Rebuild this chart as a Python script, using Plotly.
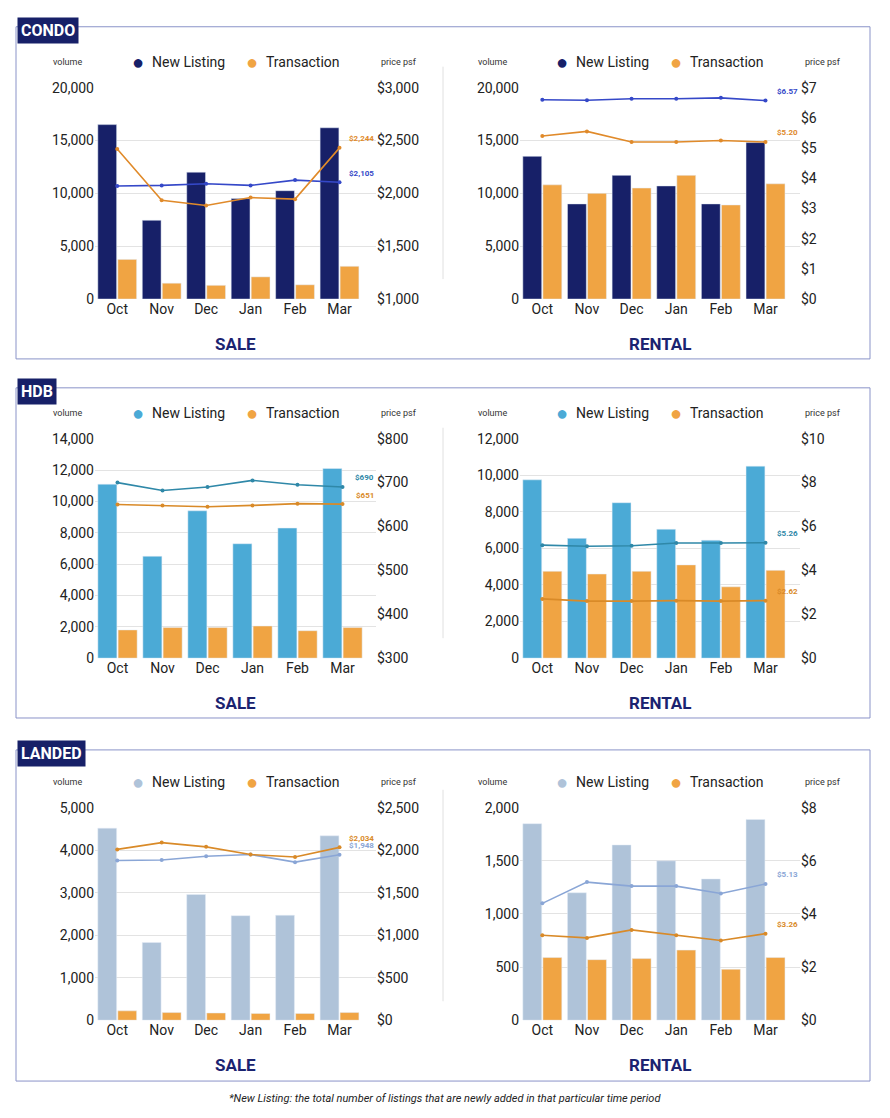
import plotly.graph_objects as go

months = ["Oct", "Nov", "Dec", "Jan", "Feb", "Mar"]

condo_sale_nl = [16500, 7450, 12000, 9500, 10250, 16200]
condo_sale_tx = [3750, 1500, 1300, 2100, 1350, 3100]
condo_sale_nl_psf = [2070, 2075, 2090, 2075, 2125, 2105]
condo_sale_tx_psf = [2420, 1935, 1885, 1960, 1945, 2430]
condo_sale_labels = ["$2,105", "$2,244"]

condo_rent_nl = [13500, 9000, 11700, 10700, 9000, 14800]
condo_rent_tx = [10800, 10000, 10500, 11700, 8900, 10900]
condo_rent_nl_psf = [6.60, 6.58, 6.63, 6.63, 6.66, 6.57]
condo_rent_tx_psf = [5.40, 5.55, 5.20, 5.20, 5.25, 5.20]
condo_rent_labels = ["$6.57", "$5.20"]

hdb_sale_nl = [11100, 6500, 9400, 7300, 8300, 12100]
hdb_sale_tx = [1800, 1950, 1950, 2050, 1750, 1950]
hdb_sale_nl_psf = [700, 682, 690, 705, 695, 690]
hdb_sale_tx_psf = [650, 648, 645, 648, 652, 651]
hdb_sale_labels = ["$690", "$651"]

hdb_rent_nl = [9750, 6550, 8500, 7050, 6450, 10500]
hdb_rent_tx = [4750, 4600, 4750, 5100, 3900, 4800]
hdb_rent_nl_psf = [5.15, 5.10, 5.12, 5.25, 5.25, 5.26]
hdb_rent_tx_psf = [2.70, 2.60, 2.60, 2.62, 2.60, 2.62]
hdb_rent_labels = ["$5.26", "$2.62"]

landed_sale_nl = [4520, 1830, 2960, 2460, 2470, 4340]
landed_sale_tx = [220, 180, 170, 160, 160, 180]
landed_sale_nl_psf = [1880, 1885, 1930, 1950, 1860, 1948]
landed_sale_tx_psf = [2010, 2090, 2040, 1950, 1920, 2034]
landed_sale_labels = ["$1,948", "$2,034"]

landed_rent_nl = [1850, 1200, 1650, 1500, 1330, 1890]
landed_rent_tx = [590, 570, 580, 660, 480, 590]
landed_rent_nl_psf = [4.40, 5.20, 5.05, 5.05, 4.77, 5.13]
landed_rent_tx_psf = [3.20, 3.10, 3.40, 3.20, 3.00, 3.26]
landed_rent_labels = ["$5.13", "$3.26"]

W, H = 874, 1102
OFF = 8
def py(p):
    p = (p - 7.3) / 0.988 + 8 - 7
    return 1 - (p - OFF) / H
def px(p): return (p - OFF) / W

TX = "#F0A443"
panels = [
    (condo_sale_nl, condo_sale_tx, condo_sale_nl_psf, condo_sale_tx_psf, condo_sale_labels, 20000, 5000, [1000, 3000], 500, 86, 298, "L", "#172068", "#3548C8", "#E08A2A"),
    (condo_rent_nl, condo_rent_tx, condo_rent_nl_psf, condo_rent_tx_psf, condo_rent_labels, 20000, 5000, [0, 7], 1, 86, 298, "R", "#172068", "#3548C8", "#E08A2A"),
    (hdb_sale_nl, hdb_sale_tx, hdb_sale_nl_psf, hdb_sale_tx_psf, hdb_sale_labels, 14000, 2000, [300, 800], 100, 438, 658, "L", "#4BAAD6", "#2F88A8", "#D98A28"),
    (hdb_rent_nl, hdb_rent_tx, hdb_rent_nl_psf, hdb_rent_tx_psf, hdb_rent_labels, 12000, 2000, [0, 10], 2, 438, 658, "R", "#4BAAD6", "#2F88A8", "#D98A28"),
    (landed_sale_nl, landed_sale_tx, landed_sale_nl_psf, landed_sale_tx_psf, landed_sale_labels, 5000, 1000, [0, 2500], 500, 808, 1021, "L", "#AFC3D9", "#8AA6D6", "#D98A28"),
    (landed_rent_nl, landed_rent_tx, landed_rent_nl_psf, landed_rent_tx_psf, landed_rent_labels, 2000, 500, [0, 8], 2, 808, 1021, "R", "#AFC3D9", "#8AA6D6", "#D98A28"),
]

fig = go.Figure()
FONT = "Roboto"
layout = dict(width=W, height=H, margin=dict(l=0, r=0, t=0, b=0),
              paper_bgcolor="white", plot_bgcolor="rgba(0,0,0,0)",
              showlegend=False, barmode="group", bargap=0.1, bargroupgap=0.06,
              font=dict(family=FONT, color="#222"))
annotations, shapes = [], []

for i, (nl, tx, nlp, txp, labs, ymax, dt, rr, rdt, top, bot, side, nlc, nll, txl) in enumerate(panels):
    k = i + 1
    xa, ya, ya2 = f"x{k}", f"y{k}", f"y{k+6}"
    xl, xr = (95, 376) if side == "L" else (520, 800)
    dom_x = [px(xl), px(xr)]
    dom_y = [py(bot), py(top)]
    layout[f"xaxis{k}"] = dict(domain=dom_x, anchor=ya, showgrid=False, showline=False,
                               tickfont=dict(size=14, color="#222"), ticks="", fixedrange=True)
    layout[f"yaxis{k}"] = dict(domain=dom_y, anchor=xa, range=[0, ymax], dtick=dt,
                               tickformat=",", showgrid=True, gridcolor="#e3e3e3",
                               tickfont=dict(size=14, color="#222"), zeroline=False, ticklen=0)
    layout[f"yaxis{k+6}"] = dict(domain=dom_y, anchor=xa, overlaying=ya, side="right",
                                 range=rr, dtick=rdt, tickformat="$,.0f", showgrid=False,
                                 tickfont=dict(size=14, color="#222"), zeroline=False)
    fig.add_trace(go.Bar(x=months, y=nl, marker_color=nlc, xaxis=xa, yaxis=ya))
    fig.add_trace(go.Bar(x=months, y=tx, marker_color=TX, xaxis=xa, yaxis=ya))
    fig.add_trace(go.Scatter(x=months, y=nlp, mode="lines+markers", line=dict(color=nll, width=1.6),
                             marker=dict(size=4), xaxis=xa, yaxis=ya2))
    fig.add_trace(go.Scatter(x=months, y=txp, mode="lines+markers", line=dict(color=txl, width=1.6),
                             marker=dict(size=4), xaxis=xa, yaxis=ya2))
    for val, lab, col in [(nlp[-1], labs[0], nll), (txp[-1], labs[1], txl)]:
        annotations.append(dict(x=months[-1], y=val, xref=xa, yref=ya2, text=f"<b>{lab}</b>",
                                showarrow=False, xshift=22, yshift=9,
                                font=dict(size=8, color=col, family=FONT)))
    ly = top - 26
    cx = (xl + xr) / 2
    annotations += [
        dict(x=px(cx - 98), y=py(ly), xref="paper", yref="paper", text="●", showarrow=False,
             font=dict(size=20, color=nlc), xanchor="center", yanchor="middle"),
        dict(x=px(cx - 86), y=py(ly), xref="paper", yref="paper", text="New Listing", showarrow=False,
             font=dict(size=14, color="#222", family=FONT), xanchor="left", yanchor="middle"),
        dict(x=px(cx + 16), y=py(ly), xref="paper", yref="paper", text="●", showarrow=False,
             font=dict(size=20, color=TX), xanchor="center", yanchor="middle"),
        dict(x=px(cx + 28), y=py(ly), xref="paper", yref="paper", text="Transaction", showarrow=False,
             font=dict(size=14, color="#222", family=FONT), xanchor="left", yanchor="middle"),
        dict(x=px(xl - 11), y=py(ly), xref="paper", yref="paper", text="volume", showarrow=False,
             font=dict(size=9, color="#333", family=FONT), xanchor="right", yanchor="middle"),
        dict(x=px(xr + 3), y=py(ly), xref="paper", yref="paper", text="price psf", showarrow=False,
             font=dict(size=9, color="#333", family=FONT), xanchor="left", yanchor="middle"),
        dict(x=px(cx), y=py(bot + 45), xref="paper", yref="paper",
             text="<b>" + ("SALE" if side == "L" else "RENTAL") + "</b>", showarrow=False,
             font=dict(size=17, color="#1B2370", family=FONT), xanchor="center", yanchor="middle"),
    ]

for name, y0, y1 in [("CONDO", 25, 358), ("HDB", 387, 718), ("LANDED", 750, 1082)]:
    shapes.append(dict(type="rect", xref="paper", yref="paper", x0=px(16), x1=px(870),
                       y0=py(y1), y1=py(y0), line=dict(color="#8A93C8", width=1)))
    shapes.append(dict(type="line", xref="paper", yref="paper", x0=px(443), x1=px(443),
                       y0=py(y1 - 80), y1=py(y0 + 40), line=dict(color="#e0e0e0", width=1)))
    annotations.append(dict(x=px(17), y=py(y0 + 4), xref="paper", yref="paper",
                            text=f"<b>{name}</b>", showarrow=False, xanchor="left", yanchor="middle",
                            bgcolor="#172068", borderpad=3,
                            font=dict(size=16, color="white", family=FONT)))

annotations.append(dict(x=px(445), y=py(1099), xref="paper", yref="paper", showarrow=False,
                        yanchor="middle",
                        text="<i>*New Listing: the total number of listings that are newly added in that particular time period</i>",
                        font=dict(size=11, color="#222", family=FONT)))
layout["annotations"] = annotations
layout["shapes"] = shapes
fig.update_layout(**layout)
fig.write_html("out.html")
